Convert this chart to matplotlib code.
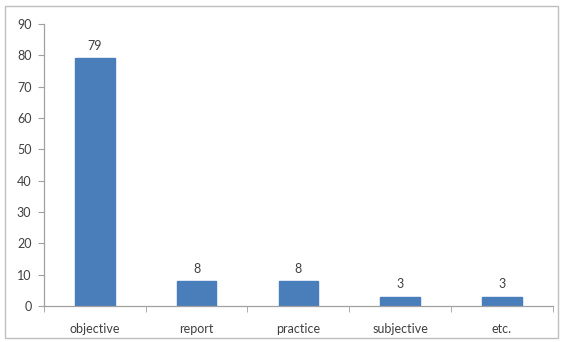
import matplotlib
matplotlib.use("Agg")
import matplotlib.pyplot as plt
from matplotlib.patches import Rectangle

categories = ["objective", "report", "practice", "subjective", "etc."]
values = [79, 8, 8, 3, 3]
yticks = list(range(0, 91, 10))

plt.rcParams['font.family'] = ['Lato', 'DejaVu Sans']

fig = plt.figure(figsize=(5.63, 3.42), dpi=100)
fig.patches.append(Rectangle((0.009, 0.012), 0.982, 0.97, transform=fig.transFigure,
                             fill=False, edgecolor="#bfbfbf", linewidth=1.0))
ax = fig.add_axes([0.078, 0.105, 0.904, 0.825])

x = list(range(len(categories)))
bars = ax.bar(x, values, width=0.39, color="#4a7ebb", edgecolor="#4a7ebb")
for xi, v in zip(x, values):
    ax.text(xi, v + 2.0, str(v), ha="center", va="bottom", fontsize=9, color="#404040")

ax.set_xlim(-0.5, len(categories) - 0.5)
ax.set_ylim(0, 90)
ax.set_yticks(yticks)
ax.set_yticklabels([str(t) for t in yticks], fontsize=9, color="#404040")
ax.set_xticks(x)
ax.set_xticklabels(categories, fontsize=9, color="#404040")
ax.tick_params(axis="x", length=0, pad=12)
ax.set_xticks([i + 0.5 for i in range(-1, len(categories))], minor=True)
ax.tick_params(axis="x", which="minor", length=4, color="#a0a0a0", direction="out")
ax.tick_params(axis="y", length=4, color="#a0a0a0", direction="out", pad=5)

for s in ["top", "right"]:
    ax.spines[s].set_visible(False)
for s in ["left", "bottom"]:
    ax.spines[s].set_color("#a0a0a0")
    ax.spines[s].set_linewidth(0.9)

fig.savefig("out.png", dpi=100)
